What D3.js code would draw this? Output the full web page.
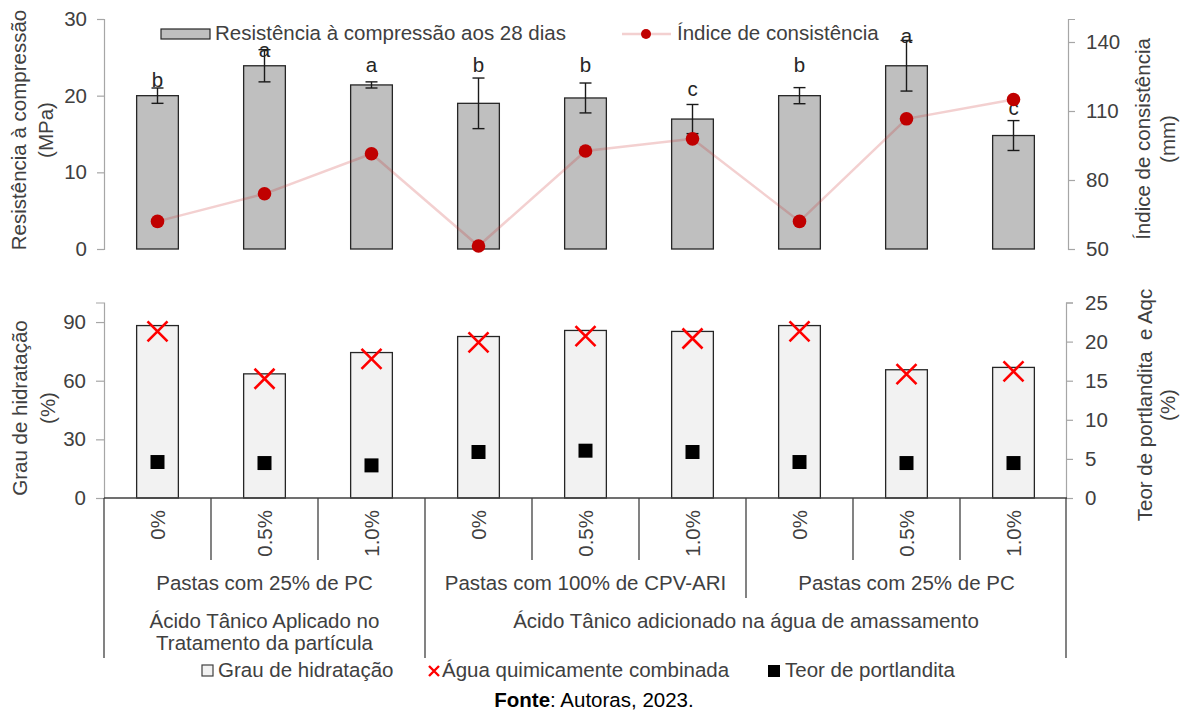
<!DOCTYPE html>
<html>
<head>
<meta charset="utf-8">
<script src="https://cdn.jsdelivr.net/npm/d3@7"></script>
<style>
	body { margin: 0; background: #fff; }
	text { font-family: "Liberation Sans", Arial, sans-serif; }
</style>
</head>
<body>
<svg id="chart"></svg>
<script>
// categories (tannic acid dosage)
const doses = ['0%', '0.5%', '1.0%', '0%', '0.5%', '1.0%', '0%', '0.5%', '1.0%'];
const pastes = ['Pastas com 25% de PC', 'Pastas com 100% de CPV-ARI', 'Pastas com 25% de PC'];
const methods = [['Ácido Tânico Aplicado no', 'Tratamento da partícula'], ['Ácido Tânico adicionado na água de amassamento']];
const methodSpan = [3, 6];

// top panel
const strength = [20.0, 23.9, 21.4, 19.0, 19.7, 16.95, 20.0, 23.9, 14.8];
const strengthErr = [1.0, 2.1, 0.4, 3.3, 1.95, 1.9, 1.05, 3.3, 1.95];
const letters = ['b', 'a', 'a', 'b', 'b', 'c', 'b', 'a', 'c'];
const letterAt = [21.1, 25.0, 23.1, 23.1, 23.1, 20.0, 23.1, 26.9, 17.5];
const consistency = [62, 74, 91.4, 51.3, 92.6, 97.9, 62, 106.6, 115];

// bottom panel
const hydration = [88.2, 63.5, 74.4, 82.6, 85.7, 85.2, 88.2, 65.6, 66.8];
const aqc = [21.3, 15.25, 17.8, 19.9, 20.7, 20.4, 21.3, 15.85, 16.2];
const portlandite = [4.6, 4.47, 4.17, 5.88, 6.05, 5.88, 4.6, 4.47, 4.47];

const leftTicksTop = [0, 10, 20, 30];
const rightTicksTop = [50, 80, 110, 140];
const leftTicksBot = [0, 30, 60, 90];
const rightTicksBot = [0, 5, 10, 15, 20, 25];

const W = 1181, H = 710;
const txt = '#404040';
const fs = '20.5px';
const svg = d3.select('#chart').attr('width', W).attr('height', H);

const x = d3.scaleBand().domain(d3.range(doses.length)).range([104, 1067]);
const bw = x.bandwidth() * 0.39;
const cx = i => x(i) + x.bandwidth() / 2;

// ---------- top panel ----------
const yL = d3.scaleLinear().domain([0, 30]).range([249, 19]);
const yR = d3.scaleLinear().domain([50, 150]).range([249, 19]);

function styleAxis(g) {
	g.select('.domain').attr('stroke', '#a6a6a6').attr('stroke-width', 1.2);
	g.selectAll('.tick line').attr('stroke', '#a6a6a6').attr('stroke-width', 1.2);
	g.selectAll('.tick text').attr('fill', txt).style('font-size', fs);
}

svg.append('g').attr('transform', 'translate(104,0)')
	.call(d3.axisLeft(yL).tickValues(leftTicksTop).tickSizeOuter(0).tickSize(7).tickPadding(10))
	.call(styleAxis);
svg.append('g').attr('transform', 'translate(1068,0)')
	.call(d3.axisRight(yR).tickValues(rightTicksTop).tickSizeOuter(0).tickSize(7).tickPadding(11))
	.call(styleAxis);

svg.selectAll('rect.sbar')
	.data(strength)
	.enter()
	.append('rect')
	.attr('x', (d, i) => cx(i) - bw / 2)
	.attr('y', d => yL(d))
	.attr('width', bw)
	.attr('height', d => yL(0) - yL(d))
	.style('fill', '#bfbfbf')
	.style('stroke', '#262626')
	.style('stroke-width', 1.3);

const err = svg.append('g').attr('stroke', '#1a1a1a').attr('stroke-width', 1.4);
strength.forEach((v, i) => {
	const c = cx(i);
	err.append('line').attr('x1', c).attr('x2', c).attr('y1', yL(v - strengthErr[i])).attr('y2', yL(v + strengthErr[i]));
	err.append('line').attr('x1', c - 6).attr('x2', c + 6).attr('y1', yL(v - strengthErr[i])).attr('y2', yL(v - strengthErr[i]));
	err.append('line').attr('x1', c - 6).attr('x2', c + 6).attr('y1', yL(v + strengthErr[i])).attr('y2', yL(v + strengthErr[i]));
});

svg.selectAll('text.letter')
	.data(letters)
	.enter()
	.append('text')
	.attr('x', (d, i) => cx(i))
	.attr('y', (d, i) => yL(letterAt[i]))
	.style('text-anchor', 'middle')
	.style('font-size', fs)
	.attr('fill', '#262626')
	.text(d => d);

const line = d3.line().x((d, i) => cx(i)).y(d => yR(d));
svg.append('path')
	.attr('d', line(consistency))
	.attr('fill', 'none')
	.attr('stroke', 'rgba(200,40,40,0.22)')
	.attr('stroke-width', 2.5);

svg.selectAll('circle.dot')
	.data(consistency)
	.enter()
	.append('circle')
	.attr('cx', (d, i) => cx(i))
	.attr('cy', d => yR(d))
	.attr('r', 6.8)
	.style('fill', '#c00000');

// top legend
svg.append('rect').attr('x', 161).attr('y', 29).attr('width', 49).attr('height', 10)
	.style('fill', '#bfbfbf').style('stroke', '#262626').style('stroke-width', 1.2);
svg.append('text').attr('x', 215).attr('y', 40).style('font-size', fs).attr('fill', txt)
	.text('Resistência à compressão aos 28 dias');
svg.append('line').attr('x1', 622).attr('x2', 671).attr('y1', 34).attr('y2', 34)
	.attr('stroke', 'rgba(200,40,40,0.22)').attr('stroke-width', 2.5);
svg.append('circle').attr('cx', 646).attr('cy', 34).attr('r', 5).style('fill', '#c00000');
svg.append('text').attr('x', 677).attr('y', 40).style('font-size', fs).attr('fill', txt)
	.text('Índice de consistência');

// axis titles
function vTitle(lines, xs, yc) {
	lines.forEach((t, k) => {
		svg.append('text')
			.attr('transform', `translate(${xs[k]},${yc}) rotate(-90)`)
			.style('text-anchor', 'middle')
			.style('font-size', fs)
			.style('white-space', 'pre')
			.attr('dy', '0.35em')
			.attr('fill', txt)
			.text(t);
	});
}
vTitle(['Resistência à compressão', '(MPa)'], [19, 46], 130);
vTitle(['Índice de consistência', '(mm)'], [1143, 1168], 139);

// ---------- bottom panel ----------
const yB = d3.scaleLinear().domain([0, 100]).range([498, 302.5]);
const yB2 = d3.scaleLinear().domain([0, 25]).range([498, 302.5]);

svg.append('g').attr('transform', 'translate(104,0)')
	.call(d3.axisLeft(yB).tickValues(leftTicksBot).tickSizeOuter(0).tickSize(8).tickPadding(10))
	.call(styleAxis);
svg.append('g').attr('transform', 'translate(1066,0)')
	.call(d3.axisRight(yB2).tickValues(rightTicksBot).tickSizeOuter(0).tickSize(7).tickPadding(12))
	.call(styleAxis);

svg.selectAll('rect.hbar')
	.data(hydration)
	.enter()
	.append('rect')
	.attr('x', (d, i) => cx(i) - bw / 2)
	.attr('y', d => yB(d))
	.attr('width', bw)
	.attr('height', d => yB(0) - yB(d))
	.style('fill', '#f2f2f2')
	.style('stroke', '#262626')
	.style('stroke-width', 1.3);

svg.selectAll('path.sq')
	.data(portlandite)
	.enter()
	.append('path')
	.attr('d', d3.symbol(d3.symbolSquare, 196))
	.attr('transform', (d, i) => `translate(${cx(i)},${yB2(d)})`)
	.style('fill', '#000');

svg.selectAll('path.xm')
	.data(aqc)
	.enter()
	.append('path')
	.attr('d', 'M-10,-10L10,10M-10,10L10,-10')
	.attr('transform', (d, i) => `translate(${cx(i)},${yB2(d)})`)
	.style('fill', 'none')
	.style('stroke', '#ff0000')
	.style('stroke-width', 2.6);

vTitle(['Grau de hidratação', '(%)'], [20, 48], 408);
vTitle(['Teor de portlandita  e Aqc', '(%)'], [1145, 1168], 405);

// ---------- category axis ----------
const ax = svg.append('g').attr('stroke', '#404040').attr('stroke-width', 1.3);
ax.append('line').attr('x1', 104).attr('x2', 1067).attr('y1', 498).attr('y2', 498);

doses.forEach((d, i) => {
	const bottom = i === 0 ? 658 : i === 3 ? 658 : i === 6 ? 598 : 560;
	ax.append('line').attr('x1', x(i)).attr('x2', x(i)).attr('y1', 498).attr('y2', bottom);
	svg.append('text')
		.attr('transform', `translate(${cx(i)},510) rotate(-90)`)
		.style('text-anchor', 'end')
		.attr('dy', '0.35em')
		.style('font-size', fs)
		.attr('fill', txt)
		.text(d);
});
ax.append('line').attr('x1', 1066).attr('x2', 1066).attr('y1', 498).attr('y2', 658);

pastes.forEach((p, k) => {
	const x0 = x(k * 3), x1 = x(k * 3 + 2) + x.bandwidth();
	svg.append('text').attr('x', (x0 + x1) / 2).attr('y', 590)
		.style('text-anchor', 'middle').style('font-size', fs).attr('fill', txt).text(p);
});

let start = 0;
methods.forEach((m, k) => {
	const x0 = x(start), x1 = x(start + methodSpan[k] - 1) + x.bandwidth();
	m.forEach((t, j) => {
		svg.append('text').attr('x', (x0 + x1) / 2).attr('y', 628 + j * 22)
			.style('text-anchor', 'middle').style('font-size', fs).attr('fill', txt).text(t);
	});
	start += methodSpan[k];
});

// bottom legend
svg.append('rect').attr('x', 202).attr('y', 665).attr('width', 11).attr('height', 11)
	.style('fill', '#f2f2f2').style('stroke', '#404040').style('stroke-width', 1.2);
svg.append('text').attr('x', 218).attr('y', 677).style('font-size', fs).attr('fill', txt).text('Grau de hidratação');
svg.append('path').attr('d', 'M-5,-5L5,5M-5,5L5,-5').attr('transform', 'translate(434,671)')
	.style('stroke', '#ff0000').style('stroke-width', 2.4).style('fill', 'none');
svg.append('text').attr('x', 442).attr('y', 677).style('font-size', fs).attr('fill', txt).text('Água quimicamente combinada');
svg.append('rect').attr('x', 768).attr('y', 665).attr('width', 12).attr('height', 12).style('fill', '#000');
svg.append('text').attr('x', 785).attr('y', 677).style('font-size', fs).attr('fill', txt).text('Teor de portlandita');

const src = svg.append('text').attr('x', 594).attr('y', 707).style('text-anchor', 'middle')
	.style('font-size', fs).attr('fill', '#000');
src.append('tspan').style('font-weight', 'bold').text('Fonte');
src.append('tspan').text(': Autoras, 2023.');
</script>
</body>
</html>
